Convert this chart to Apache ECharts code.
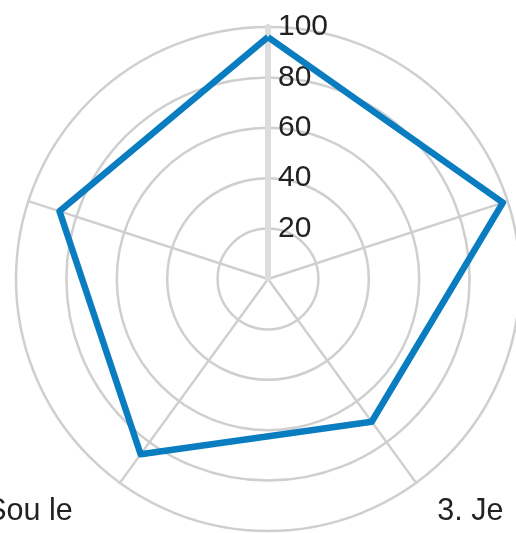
<!DOCTYPE html>
<html>
<head>
<meta charset="utf-8">
<script src="https://cdn.jsdelivr.net/npm/echarts@6/dist/echarts.min.js"></script>
<style>
html,body{margin:0;padding:0;background:#fff;}
#chart{width:516px;height:533px;}
</style>
</head>
<body>
<div id="chart"></div>
<script>
// Indicators in ECharts order (counter-clockwise from the top)
const categories = ['1. Je', '5. Je', '4. Sou le', '3. Je', '2. Je'];
const values = [96, 87, 86, 70, 98];
const maxValue = 100;
const tickLabels = ['20', '40', '60', '80', '100'];

const chart = echarts.init(document.getElementById('chart'));
const center = [268, 279];
const radius = 252;
const FONT = 'Liberation Sans, Arial, sans-serif';

chart.setOption({
  animation: false,
  radar: {
    center: center,
    radius: radius,
    shape: 'circle',
    splitNumber: 5,
    startAngle: 90,
    indicator: categories.map(n => ({ name: n, max: maxValue, min: 0 })),
    nameGap: 36,
    axisName: {
      color: '#222',
      fontSize: 30.5,
      fontFamily: FONT,
      formatter: function (name) {
        if (name.indexOf('4.') === 0 || name.indexOf('5.') === 0) return '{l|' + name + '}';
        return '{n|' + name + '}';
      },
      rich: {
        n: { fontSize: 30.5, color: '#222', fontFamily: FONT },
        l: { fontSize: 30.5, color: '#222', fontFamily: FONT, padding: [0, 26, 0, 0] }
      }
    },
    axisLine: { lineStyle: { color: '#cfcfcf', width: 2.5 } },
    splitLine: { lineStyle: { color: '#cfcfcf', width: 2.5 } },
    splitArea: { show: false },
    axisTick: { show: false },
    axisLabel: { show: false }
  },
  polar: { center: center, radius: radius },
  angleAxis: { show: false, startAngle: 90, min: 0, max: 360 },
  radiusAxis: {
    min: 0, max: maxValue, interval: 20,
    axisLine: { lineStyle: { color: '#dddddd', width: 6 } },
    axisTick: { show: false },
    splitLine: { show: false },
    axisLabel: {
      fontSize: 30, color: '#222',
      fontFamily: FONT,
      align: 'left',
      margin: -10,
      formatter: function (v) { return tickLabels.indexOf(String(v)) >= 0 ? String(v) : ''; }
    },
    z: 1
  },
  series: [{
    type: 'radar',
    z: 5,
    symbol: 'none',
    lineStyle: { color: '#0a7dc0', width: 6.5 },
    itemStyle: { color: '#0a7dc0' },
    data: [{ value: values, name: 'Série' }]
  }]
});
</script>
</body>
</html>
